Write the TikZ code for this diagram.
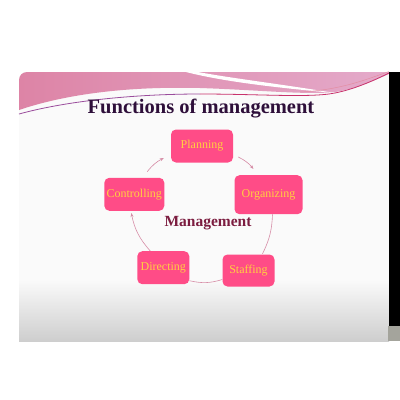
\documentclass[tikz,border=0pt]{standalone}
\usepackage{fontspec}
\setmainfont{Liberation Serif}
\usetikzlibrary{arrows.meta}
\definecolor{boxpink}{HTML}{FF4C87}
\definecolor{boxtext}{HTML}{FFD040}
\definecolor{connc}{HTML}{D68CA6}
\definecolor{titlec}{HTML}{2E0F3A}
\definecolor{mgmtc}{HTML}{7C1D40}
\definecolor{slidebg}{HTML}{FAFAFA}
\definecolor{slidebot}{HTML}{CECECE}
\definecolor{hpinkL}{HTML}{DD84A6}
\definecolor{hpinkM}{HTML}{E48DA2}
\definecolor{hpinkR}{HTML}{E4AACA}
\definecolor{linepur}{HTML}{9A4C9C}
\definecolor{linemag}{HTML}{C8326C}
\definecolor{bargray}{HTML}{A4A49C}
\tikzset{
  fbox/.style={fill=boxpink, rounded corners=5pt, inner sep=0pt,
    text=boxtext, font=\fontsize{12}{14}\selectfont},
  conn/.style={draw=connc, line width=0.6pt},
  arr/.style={-{Stealth[length=4pt,width=3pt]}},
}
\begin{document}
\begin{tikzpicture}[x=1pt,y=-1pt]
\useasboundingbox (0,0) rectangle (400,400);
\fill[white] (0,0) rectangle (400,400);
% slide background
\fill[slidebg] (19,341) -- (19,80) arc[start angle=180,end angle=90,radius=8pt] -- (389,72) -- (389,341) -- cycle;
\shade[top color=slidebg, bottom color=slidebot] (19,280) rectangle (389,341);
% header band
\shade[left color=hpinkL, middle color=hpinkM, right color=hpinkR]
  (19,110) -- (19,80) arc[start angle=180,end angle=90,radius=8pt] -- (389,72) -- (389,74)
  .. controls (375,80) and (355,89) .. (335,92)
  .. controls (305,95) and (260,90) .. (200,88)
  .. controls (120,86) and (60,96) .. (19,110) -- cycle;
% white swoosh
\fill[white] (198,72) .. controls (230,78) and (280,84) .. (335,93)
  .. controls (280,88) and (225,82) .. (186,72) -- cycle;
% thin lines under header
\draw[linepur, line width=0.8pt] (19,114) .. controls (70,100) and (140,94) .. (200,94);
\draw[linemag, line width=0.8pt] (200,94) .. controls (260,94) and (310,98) .. (335,93)
  .. controls (355,89) and (375,80) .. (389,73);
\draw[hpinkM, line width=0.5pt] (300,92) .. controls (340,90) and (365,80) .. (389,71.5);
% right black bar
\fill[black] (389,72) rectangle (400,326);
\fill[bargray] (388,326) rectangle (400,341);
% title
\node[anchor=base, text=titlec, font=\fontsize{20.5}{24}\selectfont\bfseries] (title) at (201,113) {Functions of management};
% boxes
\node[fbox, minimum width=62pt, minimum height=33pt] (plan) at (202,146) {Planning};
\node[fbox, minimum width=68pt, minimum height=39pt] (org) at (268.5,194.7) {Organizing};
\node[fbox, minimum width=60pt, minimum height=33pt] (ctrl) at (134.3,194.3) {Controlling};
\node[fbox, minimum width=52pt, minimum height=33pt] (dir) at (163.3,267.7) {Directing};
\node[fbox, minimum width=52pt, minimum height=32pt] (staff) at (248.5,270.5) {Staffing};
\node[anchor=base, text=mgmtc, font=\fontsize{15.5}{18}\selectfont\bfseries] (mgmt) at (208,226) {Management};
% connectors
\draw[conn, arr] ([xshift=13pt,yshift=6pt]ctrl.north) to[bend left=12] ([xshift=-7pt,yshift=-12pt]plan.west);
\draw[conn, arr] ([xshift=5pt,yshift=-11pt]plan.east) to[bend left=12] ([xshift=-15pt,yshift=6pt]org.north);
\draw[conn] ([xshift=4pt]org.south) to[bend left=12] ([xshift=14pt,yshift=0.5pt]staff.north);
\draw[conn] ([yshift=-9pt]staff.west) to[bend left=15] ([yshift=-13pt]dir.east);
\draw[conn, arr] ([xshift=-13pt]dir.north) to[bend left=15] ([xshift=-3pt,yshift=-2pt]ctrl.south);
\end{tikzpicture}
\end{document}
